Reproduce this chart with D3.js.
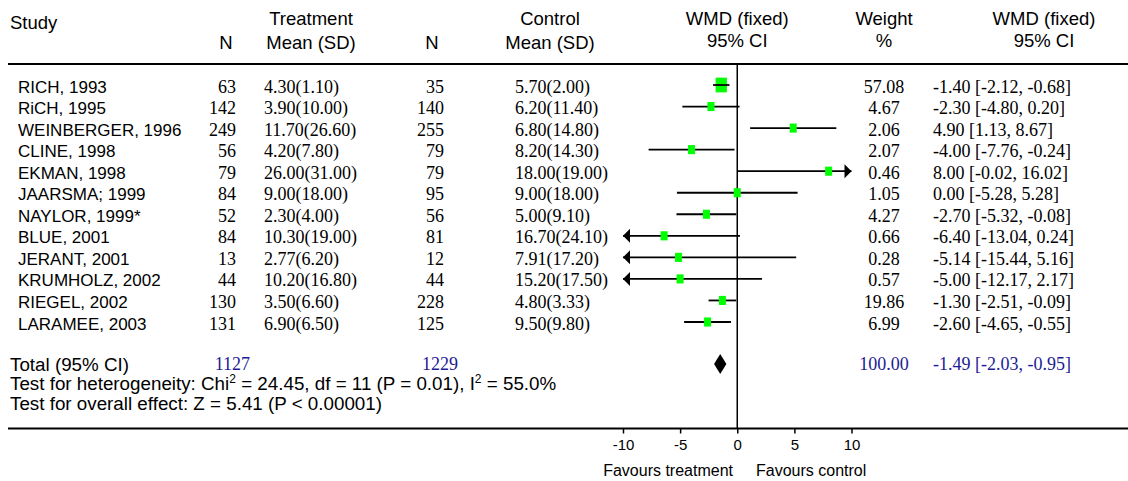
<!DOCTYPE html>
<html>
<head>
<meta charset="utf-8">
<script src="https://cdn.jsdelivr.net/npm/d3@7"></script>
<style>
  body { margin: 0; background: #fff; }
  .sans { font-family: Arial, "Liberation Sans", sans-serif; }
  .serif { font-family: "Times New Roman", "Liberation Serif", serif; }
</style>
</head>
<body>
<svg></svg>
<script>
// Data
const studies = ['RICH, 1993', 'RiCH, 1995', 'WEINBERGER, 1996', 'CLINE, 1998', 'EKMAN, 1998',
  'JAARSMA; 1999', 'NAYLOR, 1999*', 'BLUE, 2001', 'JERANT, 2001', 'KRUMHOLZ, 2002', 'RIEGEL, 2002', 'LARAMEE, 2003']
const treatN = [63, 142, 249, 56, 79, 84, 52, 84, 13, 44, 130, 131]
const treatMeanSD = ['4.30(1.10)', '3.90(10.00)', '11.70(26.60)', '4.20(7.80)', '26.00(31.00)', '9.00(18.00)',
  '2.30(4.00)', '10.30(19.00)', '2.77(6.20)', '10.20(16.80)', '3.50(6.60)', '6.90(6.50)']
const ctrlN = [35, 140, 255, 79, 79, 95, 56, 81, 12, 44, 228, 125]
const ctrlMeanSD = ['5.70(2.00)', '6.20(11.40)', '6.80(14.80)', '8.20(14.30)', '18.00(19.00)', '9.00(18.00)',
  '5.00(9.10)', '16.70(24.10)', '7.91(17.20)', '15.20(17.50)', '4.80(3.33)', '9.50(9.80)']
const weights = [57.08, 4.67, 2.06, 2.07, 0.46, 1.05, 4.27, 0.66, 0.28, 0.57, 19.86, 6.99]
const wmd = [-1.40, -2.30, 4.90, -4.00, 8.00, 0.00, -2.70, -6.40, -5.14, -5.00, -1.30, -2.60]
const ciLow = [-2.12, -4.80, 1.13, -7.76, -0.02, -5.28, -5.32, -13.04, -15.44, -12.17, -2.51, -4.65]
const ciHigh = [-0.68, 0.20, 8.67, -0.24, 16.02, 5.28, -0.08, 0.24, 5.16, 2.17, -0.09, -0.55]
const total = { treatN: 1127, ctrlN: 1229, weight: 100.00, wmd: -1.49, lo: -2.03, hi: -0.95 }
const heterogeneity = { chi2: 24.45, df: 11, p: '0.01', i2: '55.0' }
const overall = { z: 5.41, p: '< 0.00001' }
const axisTicks = [-10, -5, 0, 5, 10]

// Layout
const width = 1128
const height = 481
const blue = '#1c1c96'
const green = '#00ff00'

const svg = d3.select('svg').attr('width', width).attr('height', height)

const x = d3.scaleLinear().domain([-10, 10]).range([623, 851.5])
const y = d3.scaleLinear().domain([0, studies.length - 1]).range([85, 322])
const boxSize = d3.scaleSqrt().domain([0, 100]).range([0, 15])
const fmt = v => v.toFixed(2)   // plain hyphen minus, like the source

// column anchors
const col = { tN: 236, tMean: 264, cN: 444, cMean: 515, plot: x(0), weight: 884, ci: 933 }

// Header
const head = svg.append('g').attr('class', 'sans').style('font-size', '18.5px').attr('fill', '#000')
const headCols = [
  { t: 'Study', x: 10, y: 28.5, a: 'start' },
  { t: 'Treatment', x: 311, y: 24.5, a: 'middle' },
  { t: 'N', x: 226, y: 48.5, a: 'middle' },
  { t: 'Mean (SD)', x: 311, y: 48.5, a: 'middle' },
  { t: 'Control', x: 550, y: 24.5, a: 'middle' },
  { t: 'N', x: 432, y: 48.5, a: 'middle' },
  { t: 'Mean (SD)', x: 550, y: 48.5, a: 'middle' },
  { t: 'WMD (fixed)', x: col.plot, y: 24.5, a: 'middle' },
  { t: '95% CI', x: col.plot, y: 46.5, a: 'middle' },
  { t: 'Weight', x: col.weight, y: 24.5, a: 'middle' },
  { t: '%', x: col.weight, y: 46.5, a: 'middle' },
  { t: 'WMD (fixed)', x: 1044, y: 24.5, a: 'middle' },
  { t: '95% CI', x: 1044, y: 46.5, a: 'middle' }
]
head.selectAll('text').data(headCols).join('text')
  .attr('x', d => d.x).attr('y', d => d.y).attr('text-anchor', d => d.a).text(d => d.t)

// Rules
svg.append('line').attr('x1', 8).attr('x2', width).attr('y1', 64).attr('y2', 64)
  .attr('stroke', '#000').attr('stroke-width', 2)
svg.append('line').attr('x1', 8).attr('x2', width).attr('y1', 428.5).attr('y2', 428.5)
  .attr('stroke', '#000').attr('stroke-width', 2)

// Study rows
const rows = svg.append('g')
const idx = d3.range(studies.length)
rows.selectAll('.name').data(idx).join('text').attr('class', 'name sans')
  .attr('x', 18).attr('y', i => y(i) + 7.5).style('font-size', '17px').text(i => studies[i])

const numCols = [
  { vals: treatN, x: col.tN, a: 'end' },
  { vals: treatMeanSD, x: col.tMean, a: 'start' },
  { vals: ctrlN, x: col.cN, a: 'end' },
  { vals: ctrlMeanSD, x: col.cMean, a: 'start' },
  { vals: weights.map(fmt), x: col.weight, a: 'middle' },
  { vals: idx.map(i => `${fmt(wmd[i])} [${fmt(ciLow[i])}, ${fmt(ciHigh[i])}]`), x: col.ci, a: 'start' }
]
numCols.forEach(c => {
  rows.append('g').attr('class', 'serif').style('font-size', '18px')
    .selectAll('text').data(idx).join('text')
    .attr('x', c.x).attr('y', i => y(i) + 7.5).attr('text-anchor', c.a).text(i => c.vals[i])
})

// Forest plot
const plot = svg.append('g')
plot.append('line').attr('x1', x(0)).attr('x2', x(0)).attr('y1', 64).attr('y2', 428)
  .attr('stroke', '#000').attr('stroke-width', 1.5)

const [xMin, xMax] = x.domain()
const clampX = v => x(Math.max(xMin, Math.min(xMax, v)))

idx.forEach(i => {
  const g = plot.append('g')
  const cy = y(i)
  const w = Math.max(7, boxSize(weights[i]))
  const h = w * 1.3
  const lineOnTop = w > (x(ciHigh[i]) - x(ciLow[i])) * 0.6
  const drawLine = () => {
    g.append('line').attr('x1', clampX(ciLow[i])).attr('x2', clampX(ciHigh[i]))
      .attr('y1', cy).attr('y2', cy).attr('stroke', '#000').attr('stroke-width', 1.8)
    if (ciLow[i] < xMin) {
      const ax = x(xMin)
      g.append('path').attr('d', `M${ax},${cy}L${ax + 7},${cy - 7}L${ax + 7},${cy + 7}Z`).attr('fill', '#000')
    }
    if (ciHigh[i] > xMax) {
      const ax = x(xMax)
      g.append('path').attr('d', `M${ax},${cy}L${ax - 7},${cy - 7}L${ax - 7},${cy + 7}Z`).attr('fill', '#000')
    }
  }
  if (!lineOnTop) drawLine()
  g.append('rect').attr('x', x(wmd[i]) - w / 2).attr('y', cy - h / 2)
    .attr('width', w).attr('height', h).attr('fill', green)
  if (lineOnTop) drawLine()
})

// Total
const totY = 364
plot.append('path')
  .attr('d', `M${x(total.lo)},${totY}L${x(total.wmd)},${totY - 10}L${x(total.hi)},${totY}L${x(total.wmd)},${totY + 10}Z`)
  .attr('fill', '#000')

svg.append('text').attr('class', 'sans').attr('x', 10).attr('y', 370.5).style('font-size', '18.8px').text('Total (95% CI)')
const totCols = [
  { t: total.treatN, x: col.tN + 14, a: 'end' },
  { t: total.ctrlN, x: col.cN + 14, a: 'end' },
  { t: fmt(total.weight), x: col.weight, a: 'middle' },
  { t: `${fmt(total.wmd)} [${fmt(total.lo)}, ${fmt(total.hi)}]`, x: col.ci, a: 'start' }
]
svg.append('g').attr('class', 'serif').style('font-size', '18px').attr('fill', blue)
  .selectAll('text').data(totCols).join('text')
  .attr('x', d => d.x).attr('y', 370).attr('text-anchor', d => d.a).text(d => d.t)

const het = svg.append('text').attr('class', 'sans').attr('x', 10).attr('y', 390).style('font-size', '18.8px')
het.append('tspan').text('Test for heterogeneity: Chi')
het.append('tspan').attr('dy', -7).style('font-size', '12px').text('2')
het.append('tspan').attr('dy', 7).text(` = ${heterogeneity.chi2}, df = ${heterogeneity.df} (P = ${heterogeneity.p}), I`)
het.append('tspan').attr('dy', -7).style('font-size', '12px').text('2')
het.append('tspan').attr('dy', 7).text(` = ${heterogeneity.i2}%`)

svg.append('text').attr('class', 'sans').attr('x', 10).attr('y', 409.5).style('font-size', '18.8px')
  .text(`Test for overall effect: Z = ${overall.z} (P ${overall.p})`)

// Axis
const axis = svg.append('g').attr('transform', 'translate(0,428.5)')
  .call(d3.axisBottom(x).tickValues(axisTicks).tickSize(5).tickPadding(6).tickFormat(d => String(d)))
axis.select('.domain').remove()
axis.selectAll('line').attr('stroke', '#000').attr('stroke-width', 1.5)
axis.selectAll('text').attr('font-family', 'Arial, "Liberation Sans", sans-serif').attr('font-size', '15px').attr('fill', '#000')

svg.append('text').attr('class', 'sans').attr('x', 733).attr('y', 475.5).attr('text-anchor', 'end')
  .style('font-size', '16px').text('Favours treatment')
svg.append('text').attr('class', 'sans').attr('x', 756).attr('y', 475.5)
  .style('font-size', '16px').text('Favours control')
</script>
</body>
</html>
